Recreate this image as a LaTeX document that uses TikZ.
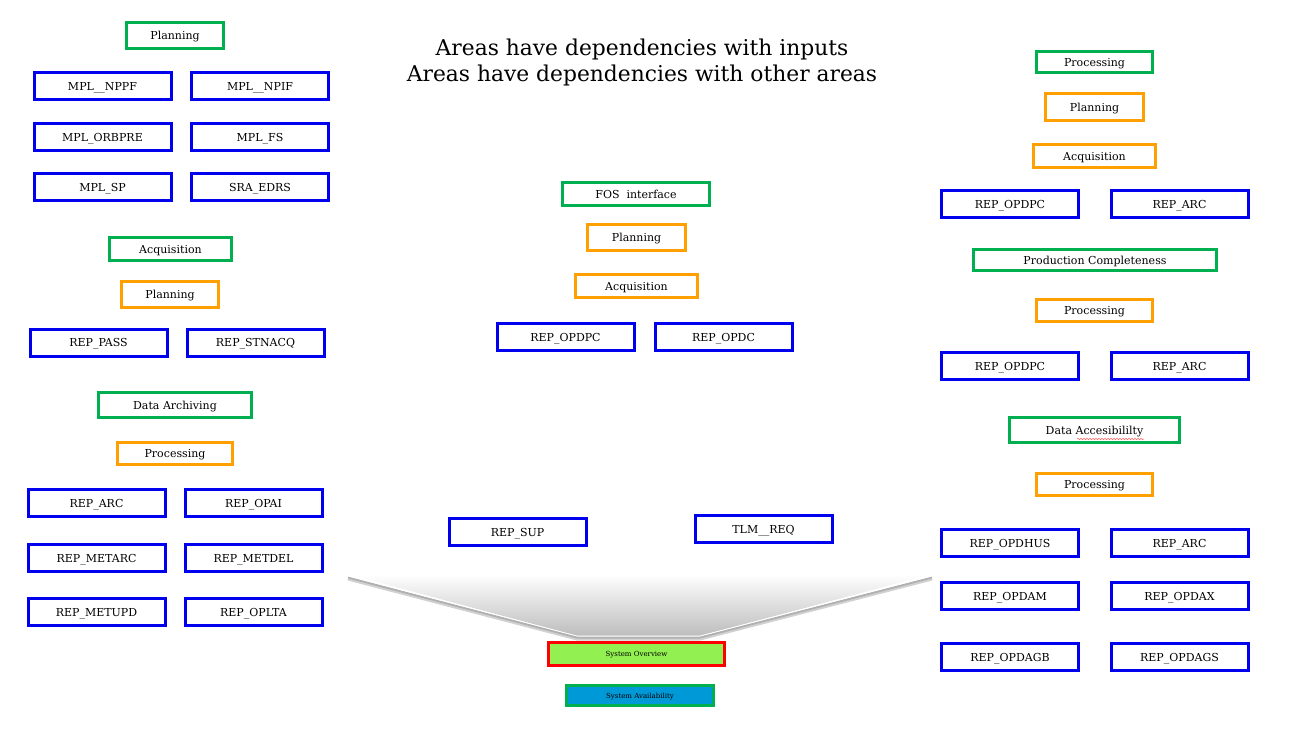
\documentclass[tikz,border=0pt]{standalone}
\usepackage{fontspec}
\setmainfont{DejaVu Serif}
\usetikzlibrary{decorations.pathmorphing}
\definecolor{bblue}{HTML}{0000EE}
\definecolor{ggreen}{HTML}{00B050}
\definecolor{oorange}{HTML}{FF9F00}
\definecolor{rred}{HTML}{FF0000}
\definecolor{fgreen}{HTML}{92F050}
\definecolor{fblue}{HTML}{0099D8}
\tikzset{
  base/.style={draw, line width=3pt, inner sep=0pt, outer sep=0pt, rectangle, font=\fontsize{11}{13}\selectfont, fill=white, text height=8pt, text depth=0pt},
  inbox/.style={base, draw=bblue, minimum width=137pt, minimum height=27pt},
  areabox/.style={base, draw=ggreen},
  subbox/.style={base, draw=oorange},
  small/.style={font=\fontsize{7}{8}\selectfont, text height=5pt, text depth=0pt},
  title/.style={font=\fontsize{21.8}{26}\selectfont, align=center, inner sep=0pt},
}
\begin{document}
\begin{tikzpicture}[x=1pt,y=-1pt]
\useasboundingbox (0,0) rectangle (1292,736);
% title
\node[title] (t) at (642,62) {Areas have dependencies with inputs\\Areas have dependencies with other areas};
% left column
\node[areabox, minimum width=97pt, minimum height=26pt] (lplan) at (175,35.5) {Planning};
\node[inbox] (l1) at (102.5,86) {MPL\_\_NPPF};
\node[inbox] (l2) at (260,86) {MPL\_\_NPIF};
\node[inbox] (l3) at (102.5,137) {MPL\_ORBPRE};
\node[inbox] (l4) at (260,137) {MPL\_FS};
\node[inbox] (l5) at (102.5,187) {MPL\_SP};
\node[inbox] (l6) at (260,187) {SRA\_EDRS};
\node[areabox, minimum width=122pt, minimum height=23pt] (lacq) at (170.5,249) {Acquisition};
\node[subbox, minimum width=97pt, minimum height=26pt] (lacqplan) at (170,294.5) {Planning};
\node[inbox] (l7) at (98.5,342.5) {REP\_PASS};
\node[inbox] (l8) at (255.5,342.5) {REP\_STNACQ};
\node[areabox, minimum width=153pt, minimum height=25pt] (ldar) at (175,405) {Data Archiving};
\node[subbox, minimum width=115pt, minimum height=22pt] (ldarproc) at (175,453.5) {Processing};
\node[inbox] (l9) at (96.5,503) {REP\_ARC};
\node[inbox] (l10) at (253.5,503) {REP\_OPAI};
\node[inbox] (l11) at (96.5,558) {REP\_METARC};
\node[inbox] (l12) at (253.5,558) {REP\_METDEL};
\node[inbox] (l13) at (96.5,612) {REP\_METUPD};
\node[inbox] (l14) at (253.5,612) {REP\_OPLTA};
% middle column
\node[areabox, minimum width=147pt, minimum height=23pt] (fos) at (636,194) {FOS\ \ interface};
\node[subbox, minimum width=98pt, minimum height=26pt] (mplan) at (636.5,237.5) {Planning};
\node[subbox, minimum width=122pt, minimum height=23pt] (macq) at (636.5,286) {Acquisition};
\node[inbox] (m1) at (565.5,337) {REP\_OPDPC};
\node[inbox] (m2) at (723.5,337) {REP\_OPDC};
\node[inbox] (m3) at (517.5,532) {REP\_SUP};
\node[inbox] (m4) at (763.5,529) {TLM\_\_REQ};
% funnel
\coordinate (fa) at (348,576);
\coordinate (fb) at (932,576);
\coordinate (fc) at (700,636);
\coordinate (fd) at (577,636);
\draw[line width=4pt, black!60, opacity=0.3, line join=round] ([yshift=-2.5pt]fa) -- ([yshift=-2.5pt]fd) -- ([yshift=-2.5pt]fc) -- ([yshift=-2.5pt]fb);
\draw[line width=2pt, black!60, opacity=0.3, line join=round] ([yshift=-1.5pt]fa) -- ([yshift=-1.5pt]fd) -- ([yshift=-1.5pt]fc) -- ([yshift=-1.5pt]fb);
\shade[top color=white, bottom color=black!26] ([yshift=2pt]fa) -- ([yshift=2pt]fb) -- (fc) -- (fd) -- cycle;
\draw[white, line width=0.8pt] (fa) -- (fd) -- (fc) -- (fb);
\node[base, small, draw=rred, fill=fgreen, minimum width=176pt, minimum height=23pt] (sov) at (636.5,654) {System Overview};
\node[base, small, draw=ggreen, fill=fblue, minimum width=147pt, minimum height=20pt] (sav) at (640,695.5) {System Availability};
% right column
\node[areabox, minimum width=116pt, minimum height=21pt] (rproc) at (1094.5,62) {Processing};
\node[subbox, minimum width=98pt, minimum height=27pt] (rplan) at (1094.5,107) {Planning};
\node[subbox, minimum width=122pt, minimum height=23pt] (racq) at (1094.5,156) {Acquisition};
\node[inbox] (r1) at (1010,204) {REP\_OPDPC};
\node[inbox] (r2) at (1179.5,204) {REP\_ARC};
\node[areabox, minimum width=243pt, minimum height=21pt] (rpc) at (1095,260) {Production Completeness};
\node[subbox, minimum width=116pt, minimum height=22pt] (rpcproc) at (1094.5,310.5) {Processing};
\node[inbox] (r3) at (1010,366) {REP\_OPDPC};
\node[inbox] (r4) at (1179.5,366) {REP\_ARC};
\node[areabox, minimum width=170pt, minimum height=25pt] (rda) at (1094.5,430) {Data Accesibililty};
\coordinate (sq1) at (1077,439);
\coordinate (sq2) at (1144,439);
\draw[red!60, line width=0.5pt, decorate, decoration={snake, amplitude=0.8pt, segment length=3pt}] (sq1) -- (sq2);
\node[subbox, minimum width=116pt, minimum height=22pt] (rdaproc) at (1094.5,484.5) {Processing};
\node[inbox] (r5) at (1010,543) {REP\_OPDHUS};
\node[inbox] (r6) at (1179.5,543) {REP\_ARC};
\node[inbox] (r7) at (1010,596) {REP\_OPDAM};
\node[inbox] (r8) at (1179.5,596) {REP\_OPDAX};
\node[inbox] (r9) at (1010,657) {REP\_OPDAGB};
\node[inbox] (r10) at (1179.5,657) {REP\_OPDAGS};
\end{tikzpicture}
\end{document}
